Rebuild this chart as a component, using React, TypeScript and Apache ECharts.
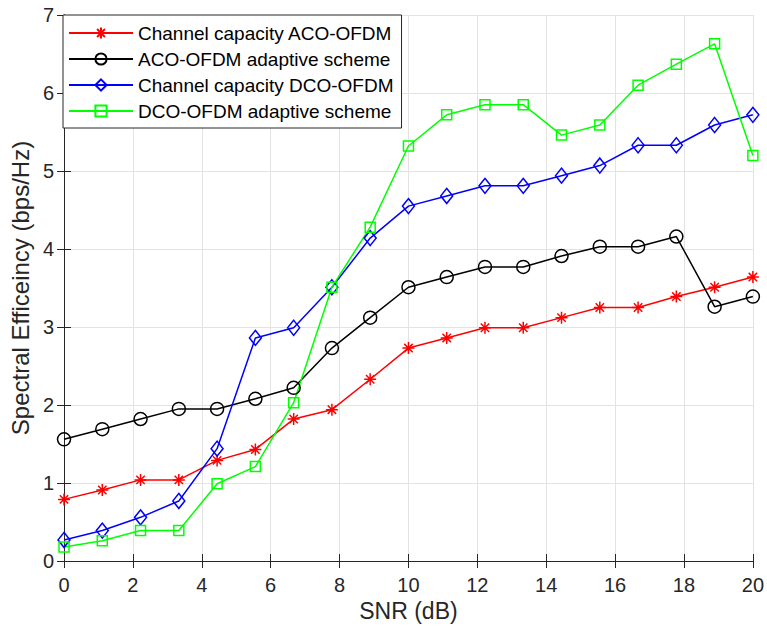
import React, { useEffect, useRef } from "react";
import * as echarts from "echarts";

const snr = [0, 1.111, 2.222, 3.333, 4.444, 5.556, 6.667, 7.778, 8.889, 10, 11.111, 12.222, 13.333, 14.444, 15.556, 16.667, 17.778, 18.889, 20];
const capAco = [0.79, 0.91, 1.04, 1.04, 1.29, 1.43, 1.82, 1.94, 2.33, 2.73, 2.86, 2.99, 2.99, 3.12, 3.25, 3.25, 3.39, 3.51, 3.64];
const adaptAco = [1.56, 1.69, 1.82, 1.95, 1.95, 2.08, 2.22, 2.73, 3.12, 3.51, 3.64, 3.77, 3.77, 3.91, 4.03, 4.03, 4.16, 3.26, 3.39];
const capDco = [0.27, 0.39, 0.56, 0.77, 1.44, 2.86, 2.99, 3.51, 4.14, 4.55, 4.68, 4.81, 4.81, 4.94, 5.07, 5.33, 5.33, 5.59, 5.72];
const adaptDco = [0.18, 0.26, 0.39, 0.39, 0.99, 1.21, 2.03, 3.51, 4.28, 5.32, 5.72, 5.85, 5.85, 5.46, 5.59, 6.10, 6.37, 6.63, 5.20];

const names = [
  "Channel capacity ACO-OFDM",
  "ACO-OFDM adaptive scheme",
  "Channel capacity DCO-OFDM",
  "DCO-OFDM adaptive scheme",
];

const FONT = "'Liberation Sans', Arial, Helvetica, sans-serif";
const AXIS = "#262626";

const ASTERISK = "path://M10,0L10,20M0,10L20,10M3,3L17,17M3,17L17,3";
const CIRCLE = "path://M20,10A10,10 0 1 1 0,10A10,10 0 1 1 20,10Z";
const DIAMOND = "path://M10,0L20,10L10,20L0,10Z";
const SQUARE = "path://M0,0L20,0L20,20L0,20Z";

function mk(name: string, ys: number[], color: string, symbol: string, size: number | number[]) {
  return {
    name,
    type: "line",
    data: snr.map((x, i) => [x, ys[i]]),
    symbol,
    symbolSize: size,
    showAllSymbol: true,
    lineStyle: { color, width: 1.5 },
    itemStyle: { color: "rgba(0,0,0,0)", borderColor: color, borderWidth: 1.5 },
    emphasis: { disabled: true },
    z: 3,
  };
}

export default function App() {
  const ref = useRef<HTMLDivElement>(null);
  useEffect(() => {
    const chart = echarts.init(ref.current!, null, { renderer: "svg" });
    chart.setOption({
      animation: false,
      backgroundColor: "#fff",
      grid: { left: 63, right: 13, top: 15, bottom: 67, containLabel: false },
      legend: {
        orient: "vertical",
        left: 63,
        top: 15,
        data: names,
        itemWidth: 64,
        itemHeight: 14,
        itemGap: 6,
        padding: [8, 8, 7, 5],
        backgroundColor: "#fff",
        borderColor: "#262626",
        borderWidth: 1,
        textStyle: { fontFamily: FONT, fontSize: 19, color: "#000", lineHeight: 20 },
        selectedMode: false,
      },
      xAxis: [
        {
          type: "value",
          min: 0,
          max: 20,
          interval: 2,
          name: "SNR (dB)",
          nameLocation: "middle",
          nameGap: 34,
          nameTextStyle: { fontFamily: FONT, fontSize: 23, color: AXIS },
          axisLine: { show: true, lineStyle: { color: AXIS, width: 1 } },
          axisTick: { show: true, inside: true, length: 7, lineStyle: { color: AXIS } },
          axisLabel: { fontFamily: FONT, fontSize: 20, color: AXIS, margin: 14 },
          splitLine: { show: true, lineStyle: { color: "#e3e3e3", width: 1 } },
        },
        {
          type: "value",
          position: "top",
          min: 0,
          max: 20,
          interval: 2,
          axisLine: { show: true, lineStyle: { color: AXIS, width: 1 } },
          axisTick: { show: true, inside: true, length: 7, lineStyle: { color: AXIS } },
          axisLabel: { show: false },
          splitLine: { show: false },
        },
      ],
      yAxis: [
        {
          type: "value",
          min: 0,
          max: 7,
          interval: 1,
          name: "Spectral Efficeincy (bps/Hz)",
          nameLocation: "middle",
          nameGap: 29,
          nameTextStyle: { fontFamily: FONT, fontSize: 24, color: AXIS },
          axisLine: { show: true, lineStyle: { color: AXIS, width: 1 } },
          axisTick: { show: true, inside: true, length: 7, lineStyle: { color: AXIS } },
          axisLabel: { fontFamily: FONT, fontSize: 20, color: AXIS, margin: 10 },
          splitLine: { show: true, lineStyle: { color: "#e3e3e3", width: 1 } },
        },
        {
          type: "value",
          position: "right",
          min: 0,
          max: 7,
          interval: 1,
          axisLine: { show: true, lineStyle: { color: AXIS, width: 1 } },
          axisTick: { show: true, inside: true, length: 7, lineStyle: { color: AXIS } },
          axisLabel: { show: false },
          splitLine: { show: false },
        },
      ],
      series: [
        mk(names[0], capAco, "#ff0000", ASTERISK, 12),
        mk(names[1], adaptAco, "#000000", CIRCLE, 13),
        mk(names[2], capDco, "#0000ff", DIAMOND, [12, 15]),
        mk(names[3], adaptDco, "#00ff00", SQUARE, 10),
      ],
    });
    return () => chart.dispose();
  }, []);
  return <div ref={ref} style={{ width: 767, height: 628, position: "absolute", left: 0, top: 0 }} />;
}
